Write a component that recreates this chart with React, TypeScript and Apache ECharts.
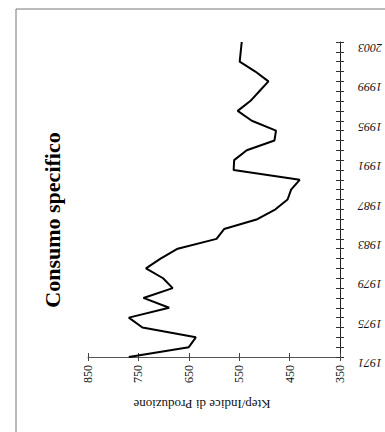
import React, { useEffect, useRef } from "react";
import * as echarts from "echarts";

const years = [
  "1971", "1972", "1973", "1974", "1975", "1976", "1977", "1978", "1979", "1980",
  "1981", "1982", "1983", "1984", "1985", "1986", "1987", "1988", "1989", "1990",
  "1991", "1992", "1993", "1994", "1995", "1996", "1997", "1998", "1999", "2000",
  "2001", "2002", "2003",
];

const consumo = [
  769, 650, 636, 742, 769, 689, 740, 682, 701, 735,
  706, 672, 595, 580, 514, 478, 454, 447, 430, 561,
  560, 535, 480, 477, 525, 553, 528, 510, 492, 518,
  549, 547, 545,
];

const valueMin = 350;
const valueMax = 850;
const valueStep = 100;

const titleText = "Consumo specifico";
const axisNameText = "Ktep/Indice di Produzione";

const serif = '"Liberation Serif", "DejaVu Serif", serif';

export default function App() {
  const ref = useRef<HTMLDivElement>(null);

  useEffect(() => {
    if (!ref.current) return;
    const chart = echarts.init(ref.current, undefined, { renderer: "svg" });
    const valueAxisBase = {
      type: "value",
      min: valueMin,
      max: valueMax,
      interval: valueStep,
      inverse: true,
      position: "bottom",
      splitLine: { show: false },
    };
    const catAxisBase = {
      type: "category",
      data: years,
      boundaryGap: false,
      position: "right",
      splitLine: { show: false },
    };
    chart.setOption({
      animation: false,
      backgroundColor: "#ffffff",
      grid: { left: 88, right: 43, top: 42, bottom: 75, containLabel: false },
      xAxis: [
        {
          ...valueAxisBase,
          axisLine: { show: true, lineStyle: { color: "#555", width: 1 } },
          axisTick: { show: true, length: 4, lineStyle: { color: "#444" } },
          axisLabel: {
            rotate: 90,
            fontFamily: serif,
            fontSize: 12,
            color: "#111",
            margin: 8,
          },
        },
        {
          ...valueAxisBase,
          axisLine: { show: false },
          axisTick: { show: true, inside: true, length: 4, lineStyle: { color: "#444" } },
          axisLabel: { show: false },
        },
      ],
      yAxis: [
        {
          ...catAxisBase,
          axisLine: { show: true, lineStyle: { color: "#222", width: 1 } },
          axisTick: { show: true, interval: 0, length: 4, lineStyle: { color: "#333" } },
          axisLabel: {
            interval: 3,
            rotate: 180,
            fontFamily: serif,
            fontStyle: "italic",
            fontSize: 12,
            color: "#111",
            margin: 18,
            verticalAlign: "bottom",
          },
        },
        {
          ...catAxisBase,
          axisLine: { show: false },
          axisTick: { show: true, inside: true, interval: 0, length: 4, lineStyle: { color: "#333" } },
          axisLabel: { show: false },
        },
      ],
      series: [
        {
          type: "line",
          xAxisIndex: 0,
          yAxisIndex: 0,
          data: consumo.map((v, i) => [v, years[i]]),
          symbol: "none",
          lineStyle: { color: "#000", width: 2 },
        },
      ],
      graphic: [
        {
          type: "line",
          shape: { x1: 16, y1: 9, x2: 385, y2: 9 },
          style: { stroke: "#777", lineWidth: 1 },
        },
        {
          type: "line",
          shape: { x1: 16, y1: 9, x2: 16, y2: 432 },
          style: { stroke: "#777", lineWidth: 1 },
        },
        {
          type: "text",
          x: 52,
          y: 220,
          rotation: Math.PI / 2,
          style: {
            text: titleText,
            fontFamily: serif,
            fontSize: 22,
            fontWeight: "bold",
            fill: "#000",
            align: "center",
            verticalAlign: "middle",
            textAlign: "center",
            textVerticalAlign: "middle",
          },
        },
        {
          type: "text",
          x: 202,
          y: 404,
          rotation: Math.PI,
          style: {
            text: axisNameText,
            fontFamily: serif,
            fontSize: 13,
            fill: "#111",
            align: "center",
            verticalAlign: "middle",
            textAlign: "center",
            textVerticalAlign: "middle",
          },
        },
      ],
    });
    return () => chart.dispose();
  }, []);

  return (
    <div
      ref={ref}
      style={{ position: "fixed", left: 0, top: 0, width: 385, height: 432 }}
    />
  );
}
